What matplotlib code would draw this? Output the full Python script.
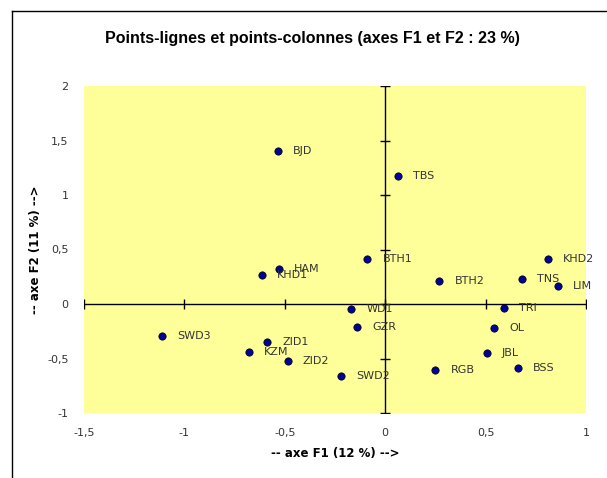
import matplotlib
matplotlib.use("Agg")
import matplotlib.pyplot as plt
from matplotlib.lines import Line2D
from matplotlib.ticker import FuncFormatter

labels = ["BJD", "TBS", "BTH1", "KHD2", "BTH2", "TNS", "LIM", "HAM", "KHD1",
          "WD1", "TRI", "GZR", "OL", "JBL", "BSS", "RGB", "SWD2",
          "SWD3", "ZID1", "KZM", "ZID2"]
f1 = [-0.536, 0.064, -0.089, 0.81, 0.27, 0.68, 0.86, -0.53, -0.615,
      -0.17, 0.59, -0.14, 0.54, 0.505, 0.66, 0.25, -0.218,
      -1.11, -0.59, -0.68, -0.486]
f2 = [1.40, 1.17, 0.41, 0.41, 0.21, 0.23, 0.165, 0.32, 0.265,
      -0.05, -0.04, -0.21, -0.22, -0.45, -0.59, -0.61, -0.66,
      -0.29, -0.35, -0.44, -0.52]

xticks = [-1.5, -1, -0.5, 0, 0.5, 1]
yticks = [-1, -0.5, 0, 0.5, 1, 1.5, 2]

plt.rcParams['font.family'] = ['DejaVu Sans']

W, H = 607, 478
fig = plt.figure(figsize=(W / 100, H / 100), dpi=100)
fig.patch.set_facecolor("white")

# outer chart border (only left and top visible)
fig.add_artist(Line2D([12 / W, 12 / W], [0, 1 - 11 / H], color="black", lw=1))
fig.add_artist(Line2D([12 / W, 1], [1 - 11 / H, 1 - 11 / H], color="black", lw=1))

ax = fig.add_axes([84 / W, 1 - 413 / H, (586 - 84) / W, (413 - 86) / H])
ax.set_facecolor("#ffff99")
ax.set_xlim(-1.5, 1)
ax.set_ylim(-1, 2)
for s in ax.spines.values():
    s.set_visible(False)

fmt = FuncFormatter(lambda v, p: ("%g" % v).replace(".", ","))
ax.set_xticks(xticks)
ax.set_yticks(yticks)
ax.xaxis.set_major_formatter(fmt)
ax.yaxis.set_major_formatter(fmt)
ax.tick_params(length=0, labelsize=8, labelcolor="#333333")
ax.tick_params(axis="x", pad=11)
ax.tick_params(axis="y", pad=11)

# crossing axes at zero with cross tick marks
ax.plot([-1.5, 1], [0, 0], color="black", lw=1, zorder=2)
ax.plot([0, 0], [-1, 2], color="black", lw=1, zorder=2)
ax.plot(xticks, [0] * len(xticks), ls="none", marker="|", ms=7, mew=1, color="black", zorder=2)
ax.plot([0] * len(yticks), yticks, ls="none", marker="_", ms=7, mew=1, color="black", zorder=2)

ax.scatter(f1, f2, s=28, color="#000099", edgecolor="black", linewidth=0.5, zorder=3)
for name, x, y in zip(labels, f1, f2):
    ax.annotate(name, (x, y), xytext=(11, 0), textcoords="offset points",
                va="center", ha="left", fontsize=8, color="#333333", zorder=4)

ax.set_xlabel("-- axe F1 (12 %) -->", fontsize=8.5, fontweight="bold", labelpad=6)
ax.set_ylabel("-- axe F2 (11 %) -->", fontsize=8.5, fontweight="bold", labelpad=4)

fig.text(312 / W, 1 - 38 / H, "Points-lignes et points-colonnes (axes F1 et F2 : 23 %)",
         ha="center", va="center", fontsize=11.5, fontweight="bold",
         family="Liberation Sans")

fig.savefig("out.png", dpi=100)
